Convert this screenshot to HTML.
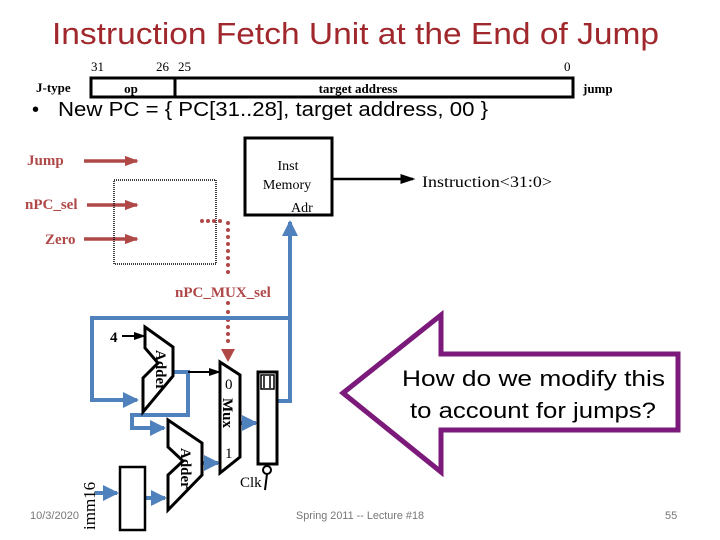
<!DOCTYPE html>
<html><head><meta charset="utf-8"><style>
html,body{margin:0;padding:0;background:#fff;}
svg{display:block;}
</style></head><body>
<svg width="720" height="540" viewBox="0 0 720 540" xmlns="http://www.w3.org/2000/svg">
<defs>
<marker id="ar" markerWidth="4" markerHeight="4" refX="3.5" refY="2" orient="auto" markerUnits="strokeWidth"><path d="M0,0.5 L4,2 L0,3.5 z" fill="#b04848"/></marker>
<marker id="ab" markerWidth="4" markerHeight="4" refX="3.5" refY="2" orient="auto" markerUnits="strokeWidth"><path d="M0,0 L4,2 L0,4 z" fill="#4f81bd"/></marker>
<marker id="ak" markerWidth="6" markerHeight="6" refX="5" refY="3" orient="auto" markerUnits="strokeWidth"><path d="M0,1 L6,3 L0,5 z" fill="#000"/></marker>
</defs>
<text x="52" y="44" textLength="607" lengthAdjust="spacingAndGlyphs" font-family="Liberation Sans, sans-serif" font-size="31" fill="#a0282d">Instruction Fetch Unit at the End of  Jump</text>

<g font-family="Liberation Serif, serif" font-size="13">
<text x="91" y="71">31</text><text x="156" y="71">26</text><text x="178" y="71">25</text><text x="564" y="71">0</text>
<text x="36" y="92" font-weight="bold">J-type</text>
<rect x="91" y="78" width="482" height="19" fill="none" stroke="#000" stroke-width="3"/>
<line x1="175" y1="78" x2="175" y2="97" stroke="#000" stroke-width="3"/>
<text x="131" y="93" text-anchor="middle" font-weight="bold">op</text>
<text x="358" y="93" text-anchor="middle" font-weight="bold">target address</text>
<text x="583" y="93" font-weight="bold">jump</text>
</g>
<text x="32" y="116" font-family="Liberation Sans, sans-serif" font-size="20">•</text>
<text x="58" y="116" textLength="430" lengthAdjust="spacingAndGlyphs" font-family="Liberation Sans, sans-serif" font-size="20">New PC = { PC[31..28], target address, 00 }</text>

<g font-family="Liberation Serif, serif" font-weight="bold" font-size="15" fill="#b04848">
<text x="27" y="165">Jump</text>
<text x="25" y="209">nPC_sel</text>
<text x="45" y="244">Zero</text>
<text x="175" y="297">nPC_MUX_sel</text>
</g>
<g stroke="#b04848" stroke-width="3.5">
<line x1="84" y1="161" x2="137" y2="161" marker-end="url(#ar)"/>
<line x1="87" y1="205" x2="137" y2="205" marker-end="url(#ar)"/>
<line x1="84" y1="239" x2="137" y2="239" marker-end="url(#ar)"/>
</g>
<rect x="114" y="180" width="102" height="84" fill="none" stroke="#000" stroke-width="1.5" stroke-dasharray="1,1"/>
<g fill="#b04848">
<circle cx="202" cy="221" r="2"/><circle cx="208" cy="221" r="2"/><circle cx="214" cy="221" r="2"/><circle cx="220" cy="221" r="2"/>
<circle cx="228" cy="223" r="2"/><circle cx="228" cy="230" r="2"/><circle cx="228" cy="237" r="2"/><circle cx="228" cy="244" r="2"/><circle cx="228" cy="251" r="2"/><circle cx="228" cy="258" r="2"/><circle cx="228" cy="265" r="2"/><circle cx="228" cy="272" r="2"/>
<circle cx="228" cy="303" r="2"/><circle cx="228" cy="312" r="2"/><circle cx="228" cy="320" r="2"/><circle cx="228" cy="327" r="2"/><circle cx="228" cy="334" r="2"/><circle cx="228" cy="341" r="2"/>
<path d="M221,349 L235,349 L228,362 z"/>
</g>

<rect x="245" y="138" width="87" height="77" fill="#fff" stroke="#000" stroke-width="3"/>
<g font-family="Liberation Serif, serif" font-size="14">
<text x="288" y="170" text-anchor="middle">Inst</text>
<text x="287" y="189" text-anchor="middle">Memory</text>
<text x="291" y="212">Adr</text>
<text x="422" y="187" font-size="16" textLength="130" lengthAdjust="spacingAndGlyphs">Instruction&lt;31:0&gt;</text>
</g>
<line x1="332" y1="179" x2="413" y2="179" stroke="#000" stroke-width="2.5" marker-end="url(#ak)"/>

<g fill="none" stroke="#4f81bd" stroke-width="4">
<path d="M290,318 L290,222" marker-end="url(#ab)"/>
<path d="M290,318 L92,318 L92,400 L137,400" marker-end="url(#ab)"/>
<path d="M277,401 L290,401 L290,318"/>
<path d="M173,372 L188,372 L188,415 L132,415 L132,428 L164,428" marker-end="url(#ab)"/>
<path d="M202,463 L218,463" marker-end="url(#ab)"/>
<path d="M240,423 L256,423" marker-end="url(#ab)"/>
<path d="M95,493 L117,493" marker-end="url(#ab)"/>
<path d="M145,498 L165,498" marker-end="url(#ab)"/>
</g>
<line x1="188" y1="372" x2="219" y2="372" stroke="#000" stroke-width="2" marker-end="url(#ak)"/>
<line x1="122" y1="336" x2="144" y2="336" stroke="#000" stroke-width="2" marker-end="url(#ak)"/>
<text x="110" y="342" font-family="Liberation Serif, serif" font-weight="bold" font-size="15">4</text>

<polygon points="145,327 173,347 173,376 143,412 143,378 158,363 145,348" fill="#fff" stroke="#000" stroke-width="3"/>
<text transform="translate(156,350) rotate(90)" font-family="Liberation Serif, serif" font-weight="bold" font-size="15">Adder</text>
<polygon points="168,420 202,443 202,475 168,510 168,475 183,461 168,447" fill="#fff" stroke="#000" stroke-width="3"/>
<text transform="translate(181,448) rotate(90)" font-family="Liberation Serif, serif" font-weight="bold" font-size="15">Adder</text>

<polygon points="220,362 240,375 240,457 220,473" fill="#fff" stroke="#000" stroke-width="3"/>
<g font-family="Liberation Serif, serif" font-size="15">
<text x="225" y="389">0</text>
<text x="225" y="458">1</text>
<text transform="translate(223,398) rotate(90)" font-weight="bold">Mux</text>
<text transform="translate(262,400) rotate(90)" font-weight="bold">PC</text>
<text x="240" y="487">Clk</text>
<text transform="translate(95,530) rotate(-90)" font-size="17">imm16</text>
</g>
<rect x="258" y="372" width="19" height="92" fill="#fff" stroke="#000" stroke-width="3"/>
<rect x="261" y="375" width="13" height="14" fill="none" stroke="#000" stroke-width="1.5"/>
<line x1="264" y1="376" x2="264" y2="388" stroke="#000" stroke-width="1.5"/>
<line x1="270" y1="376" x2="270" y2="388" stroke="#000" stroke-width="1.5"/>
<circle cx="267" cy="470" r="4" fill="#fff" stroke="#000" stroke-width="2"/>
<line x1="267" y1="474" x2="265" y2="490" stroke="#000" stroke-width="2"/>
<rect x="120" y="467" width="25" height="63" fill="#fff" stroke="#000" stroke-width="2.5"/>

<polygon points="343,393 441,315 441,354 678,354 678,430 441,430 441,472" fill="#fff" stroke="#7b1a7b" stroke-width="5" stroke-linejoin="miter"/>
<g font-family="Liberation Sans, sans-serif" font-size="22">
<text x="402" y="386" textLength="263" lengthAdjust="spacingAndGlyphs">How do we modify this</text>
<text x="410" y="418" textLength="246" lengthAdjust="spacingAndGlyphs">to account for jumps?</text>
</g>

<g font-family="Liberation Sans, sans-serif" font-size="11" fill="#777">
<text x="30" y="519">10/3/2020</text>
<text x="296" y="519" textLength="128" lengthAdjust="spacingAndGlyphs">Spring 2011 -- Lecture #18</text>
<text x="665" y="519">55</text>
</g>
</svg>
</body></html>
